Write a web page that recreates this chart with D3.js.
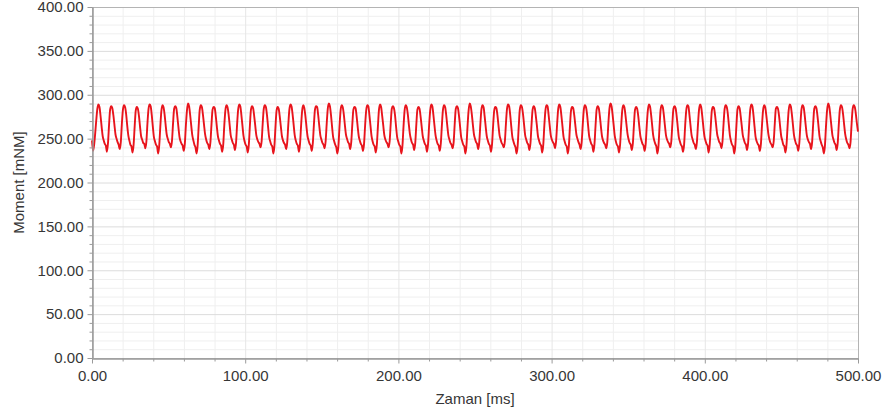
<!DOCTYPE html>
<html>
<head>
<meta charset="utf-8">
<script src="https://cdn.jsdelivr.net/npm/d3@7"></script>
<style>
  body { margin: 0; background: #fff; }
  text { font-family: "Liberation Sans", Arial, sans-serif; }
</style>
</head>
<body>
<svg id="canvas" width="885" height="412"></svg>
<script>
// ************************************************************************************************** //
// Data

var yTicks = [0, 50, 100, 150, 200, 250, 300, 350, 400];
var xTicks = [0, 100, 200, 300, 400, 500];
var yMinorTicks = [10, 20, 30, 40, 60, 70, 80, 90, 110, 120, 130, 140, 160, 170, 180, 190, 210, 220, 230, 240,
                   260, 270, 280, 290, 310, 320, 330, 340, 360, 370, 380, 390];
var xMinorTicks = [20, 40, 60, 80, 120, 140, 160, 180, 220, 240, 260, 280, 320, 340, 360, 380, 420, 440, 460, 480];

var xTitle = 'Zaman [ms]';
var yTitle = 'Moment [mNM]';

// moment samples [mNM], evenly spaced from 0 to 500 ms
var moment = [
  248, 236, 243, 256, 271, 284,
  289, 286, 276, 264, 253, 248, 244, 242, 235, 245, 266, 283,
  287, 285, 277, 266, 255, 250, 246, 243, 238, 246, 267, 283,
  288, 286, 278, 265, 254, 248, 243, 241, 234, 243, 264, 282,
  286, 284, 276, 264, 253, 249, 245, 244, 239, 247, 268, 284,
  289, 287, 277, 264, 252, 247, 243, 241, 233, 242, 263, 281,
  288, 286, 278, 266, 255, 250, 246, 244, 240, 248, 268, 284,
  287, 285, 275, 263, 252, 247, 244, 242, 236, 244, 265, 282,
  290, 287, 277, 265, 254, 248, 243, 240, 233, 242, 264, 283,
  288, 286, 277, 266, 255, 249, 245, 243, 238, 246, 266, 283,
  286, 285, 276, 264, 253, 248, 244, 242, 235, 243, 265, 282,
  288, 286, 278, 266, 254, 249, 245, 243, 237, 245, 266, 283,
  289, 287, 277, 265, 253, 247, 243, 241, 234, 243, 265, 283,
  287, 285, 276, 265, 254, 249, 246, 244, 240, 247, 267, 284,
  288, 286, 277, 264, 252, 247, 243, 241, 233, 242, 264, 282,
  286, 284, 275, 264, 253, 248, 245, 243, 238, 246, 266, 283,
  289, 287, 278, 266, 254, 248, 244, 242, 235, 244, 265, 282,
  288, 285, 276, 264, 253, 248, 244, 242, 236, 245, 266, 283,
  287, 286, 277, 265, 254, 249, 245, 243, 239, 247, 267, 284,
  290, 287, 277, 264, 252, 247, 243, 240, 233, 242, 264, 282,
  288, 286, 278, 266, 255, 250, 246, 244, 238, 246, 266, 283,
  286, 285, 276, 264, 253, 248, 244, 242, 236, 244, 265, 282,
  288, 287, 277, 265, 253, 247, 243, 241, 234, 243, 264, 283,
  289, 286, 276, 265, 254, 249, 246, 244, 240, 247, 267, 284,
  287, 285, 277, 264, 252, 247, 243, 241, 233, 242, 264, 282,
  288, 286, 278, 266, 255, 249, 245, 243, 237, 245, 266, 283,
  286, 284, 275, 264, 253, 248, 244, 242, 235, 244, 265, 282,
  289, 287, 277, 265, 254, 248, 244, 242, 236, 245, 266, 283,
  288, 286, 277, 265, 254, 249, 245, 243, 239, 246, 267, 284,
  287, 285, 276, 264, 252, 247, 243, 241, 233, 242, 264, 282,
  290, 287, 278, 266, 255, 250, 246, 244, 238, 246, 266, 283,
  288, 286, 276, 264, 253, 248, 244, 242, 235, 244, 265, 282,
  286, 285, 277, 265, 254, 249, 245, 243, 240, 247, 267, 284,
  289, 287, 277, 264, 252, 247, 243, 240, 233, 242, 264, 283,
  288, 286, 278, 266, 254, 249, 245, 243, 237, 245, 266, 283,
  287, 285, 276, 265, 253, 248, 244, 242, 234, 243, 265, 282,
  288, 287, 277, 265, 254, 249, 246, 244, 239, 247, 267, 284,
  289, 286, 276, 264, 252, 247, 243, 241, 233, 242, 264, 282,
  286, 285, 277, 266, 255, 250, 246, 243, 238, 246, 266, 283,
  288, 286, 278, 265, 253, 248, 244, 242, 235, 244, 265, 283,
  287, 285, 276, 264, 253, 248, 245, 243, 239, 246, 267, 284,
  290, 287, 277, 265, 253, 247, 243, 241, 234, 243, 264, 282,
  288, 286, 277, 266, 255, 249, 245, 243, 237, 245, 266, 283,
  286, 284, 276, 264, 253, 248, 244, 242, 236, 244, 265, 282,
  289, 287, 278, 266, 254, 248, 244, 241, 233, 242, 264, 283,
  288, 286, 277, 265, 254, 249, 246, 244, 240, 247, 267, 284,
  287, 285, 276, 264, 252, 247, 243, 241, 235, 243, 265, 282,
  288, 287, 277, 265, 254, 249, 245, 243, 238, 246, 266, 283,
  289, 286, 276, 264, 253, 248, 244, 242, 234, 243, 264, 282,
  286, 285, 277, 266, 255, 250, 246, 244, 239, 247, 267, 284,
  288, 286, 278, 265, 253, 247, 243, 241, 233, 242, 264, 283,
  287, 285, 276, 265, 254, 249, 245, 243, 237, 245, 266, 283,
  289, 287, 277, 264, 252, 247, 244, 242, 236, 244, 265, 282,
  288, 286, 277, 266, 255, 249, 245, 243, 240, 247, 267, 284,
  286, 284, 276, 264, 253, 248, 243, 241, 234, 243, 264, 282,
  289, 287, 278, 266, 254, 248, 244, 242, 236, 245, 266, 283,
  288, 286, 277, 265, 254, 249, 246, 244, 238, 246, 267, 284,
  287, 285, 276, 264, 252, 247, 243, 240, 233, 242, 264, 282,
  290, 287, 277, 265, 254, 249, 245, 243, 237, 245, 266, 283,
  288, 286, 278, 266, 255, 249, 245, 243, 239, 246, 267, 284,
  288, 286, 278, 267, 258
];

// ************************************************************************************************** //
// Setup

var svg = d3.select('#canvas');
var margin = { left: 92, right: 27, top: 7, bottom: 54 };
var W = +svg.attr('width'), H = +svg.attr('height');

var xScale = d3.scaleLinear().domain([0, 500]).range([margin.left, W - margin.right]);
var yScale = d3.scaleLinear().domain([0, 400]).range([H - margin.bottom, margin.top]);
var sampleMs = 500 / (moment.length - 1);

var textColor = '#363636';
var axisColor = '#9a9a9a';

// ************************************************************************************************** //
// Grid

var grid = svg.append('g');
grid.selectAll('.ymin').data(yMinorTicks).enter().append('line')
  .attr('x1', xScale(0)).attr('x2', xScale(500))
  .attr('y1', (d) => yScale(d) + 0.5).attr('y2', (d) => yScale(d) + 0.5)
  .style('stroke', '#efefef');
grid.selectAll('.xmin').data(xMinorTicks).enter().append('line')
  .attr('y1', yScale(0)).attr('y2', yScale(400))
  .attr('x1', (d) => xScale(d) + 0.5).attr('x2', (d) => xScale(d) + 0.5)
  .style('stroke', '#efefef');
grid.selectAll('.ymaj').data(yTicks).enter().append('line')
  .attr('x1', xScale(0)).attr('x2', xScale(500))
  .attr('y1', (d) => yScale(d) + 0.5).attr('y2', (d) => yScale(d) + 0.5)
  .style('stroke', '#dcdcdc');
grid.selectAll('.xmaj').data(xTicks).enter().append('line')
  .attr('y1', yScale(0)).attr('y2', yScale(400))
  .attr('x1', (d) => xScale(d) + 0.5).attr('x2', (d) => xScale(d) + 0.5)
  .style('stroke', '#e6e6e6');

// plot frame
svg.append('rect')
  .attr('x', xScale(0) + 0.5).attr('y', yScale(400) + 0.5)
  .attr('width', xScale(500) - xScale(0)).attr('height', yScale(0) - yScale(400))
  .style('fill', 'none').style('stroke', '#b4b4b4');

// ************************************************************************************************** //
// Series

var line_gen = d3.line().curve(d3.curveMonotoneX).x((d, i) => xScale(i * sampleMs)).y((d) => yScale(d));
svg.append('path').datum(moment)
  .attr('d', line_gen)
  .style('fill', 'none').style('stroke', '#e8141c').style('stroke-width', 1.9)
  .style('stroke-linejoin', 'round');

// ************************************************************************************************** //
// Axes

var fmt = d3.format('.2f');

var yAxisMinor = svg.append('g').attr('transform', 'translate(' + (xScale(0) + 0.5) + ',0)')
  .call(d3.axisLeft(yScale).tickValues(yMinorTicks).tickSize(3).tickSizeOuter(0).tickFormat(''));
var yAxis = svg.append('g').attr('transform', 'translate(' + (xScale(0) + 0.5) + ',0)')
  .call(d3.axisLeft(yScale).tickValues(yTicks).tickSize(5).tickSizeOuter(0).tickPadding(4).tickFormat(fmt));

var xAxisMinor = svg.append('g').attr('transform', 'translate(0,' + (yScale(0) + 0.5) + ')')
  .call(d3.axisBottom(xScale).tickValues(xMinorTicks).tickSize(3).tickSizeOuter(0).tickFormat(''));
var xAxis = svg.append('g').attr('transform', 'translate(0,' + (yScale(0) + 0.5) + ')')
  .call(d3.axisBottom(xScale).tickValues(xTicks).tickSize(5).tickSizeOuter(0).tickPadding(7).tickFormat(fmt));

[yAxisMinor, yAxis, xAxisMinor, xAxis].forEach((g) => {
  g.select('.domain').style('stroke', axisColor);
  g.selectAll('.tick line').style('stroke', axisColor);
  g.selectAll('.tick text').style('fill', textColor).style('font-size', '15px')
    .style('font-family', '"Liberation Sans", Arial, sans-serif');
});

// titles
svg.append('text')
  .attr('x', (xScale(0) + xScale(500)) / 2).attr('y', 404)
  .attr('text-anchor', 'middle')
  .style('font-size', '15px').style('fill', textColor)
  .text(xTitle);

svg.append('text')
  .attr('transform', 'translate(24,' + ((yScale(0) + yScale(400)) / 2) + ') rotate(-90)')
  .attr('text-anchor', 'middle')
  .style('font-size', '15px').style('fill', textColor)
  .text(yTitle);
</script>
</body>
</html>
